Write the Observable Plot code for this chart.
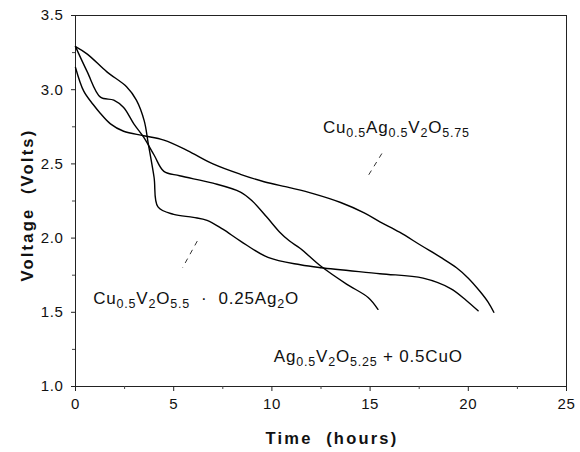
<!DOCTYPE html>
<html>
<head>
<meta charset="utf-8">
<script src="https://cdn.jsdelivr.net/npm/d3@7"></script>
<script src="https://cdn.jsdelivr.net/npm/@observablehq/plot@0.6"></script>
<style>
  html, body { margin: 0; padding: 0; background: #fff; }
  #chart { width: 580px; height: 452px; }
</style>
</head>
<body>
<div id="chart"></div>
<script>
// ---- data ----
const seriesA_name = "Cu0.5Ag0.5V2O5.75";
const seriesA_t = [0, 0.42, 0.9, 1.27, 1.78, 2.45, 3.47, 4.5, 5.7, 7.0, 8.4, 9.6, 10.9, 12.1, 13.5, 14.7, 15.5, 16.5, 17.6, 18.6, 19.4, 20.0, 20.6, 21.0, 21.3];
const seriesA_v = [3.15, 2.99, 2.90, 2.84, 2.77, 2.72, 2.69, 2.66, 2.59, 2.50, 2.43, 2.38, 2.34, 2.30, 2.24, 2.17, 2.11, 2.04, 1.95, 1.87, 1.80, 1.73, 1.64, 1.57, 1.50];

const seriesB_name = "Ag0.5V2O5.25 + 0.5CuO";
const seriesB_t = [0, 0.6, 1.27, 1.95, 2.45, 2.97, 3.47, 4.0, 4.5, 5.3, 7.0, 8.4, 9.0, 9.75, 10.4, 10.9, 11.45, 12.5, 13.8, 14.9, 15.4];
const seriesB_v = [3.29, 3.12, 2.95, 2.93, 2.88, 2.77, 2.68, 2.56, 2.45, 2.42, 2.37, 2.31, 2.25, 2.14, 2.04, 1.98, 1.93, 1.81, 1.69, 1.60, 1.52];

const seriesC_name = "Cu0.5V2O5.5 · 0.25Ag2O";
const seriesC_t = [0, 0.6, 1.6, 2.6, 3.1, 3.5, 3.7, 4.0, 4.2, 5.0, 6.0, 6.7, 7.5, 8.4, 9.8, 11.45, 12.5, 15.5, 17.7, 19.1, 19.9, 20.5];
const seriesC_v = [3.29, 3.24, 3.12, 3.02, 2.93, 2.79, 2.64, 2.41, 2.21, 2.16, 2.14, 2.12, 2.06, 1.98, 1.87, 1.82, 1.80, 1.76, 1.73, 1.66, 1.58, 1.51];

const xTicks = [0, 5, 10, 15, 20, 25];
const yTicks = [1.0, 1.5, 2.0, 2.5, 3.0, 3.5];
const xMinorTicks = [2.5, 7.5, 12.5, 17.5, 22.5];
const yMinorTicks = [1.25, 1.75, 2.25, 2.75, 3.25];

// annotation labels (subscripts marked with _{...})
const labelText = ["Cu_{0.5}Ag_{0.5}V_{2}O_{5.75}", "Cu_{0.5}V_{2}O_{5.5}  ·  0.25Ag_{2}O", "Ag_{0.5}V_{2}O_{5.25} + 0.5CuO"];
const labelT = [12.6, 0.9, 10.1];
const labelV = [2.745, 1.595, 1.205];

// pointer dashes
const pointerT1 = [15.6, 6.2];
const pointerV1 = [2.57, 1.98];
const pointerT2 = [14.9, 5.45];
const pointerV2 = [2.42, 1.80];

const xLabel = "Time  (hours)";
const yLabel = "Voltage  (Volts)";

// ---- build tables ----
const curves = [
  ...seriesA_t.map((t, i) => ({series: seriesA_name, t, v: seriesA_v[i]})),
  ...seriesB_t.map((t, i) => ({series: seriesB_name, t, v: seriesB_v[i]})),
  ...seriesC_t.map((t, i) => ({series: seriesC_name, t, v: seriesC_v[i]}))
];
const labels = labelText.map((s, i) => ({s, t: labelT[i], v: labelV[i]}));
const pointers = pointerT1.map((t, i) => ({t1: t, v1: pointerV1[i], t2: pointerT2[i], v2: pointerV2[i]}));

const font = "'Liberation Sans', Arial, Helvetica, sans-serif";

const chart = Plot.plot({
  width: 580,
  height: 452,
  marginLeft: 75,
  marginRight: 14,
  marginTop: 15,
  marginBottom: 66,
  x: {type: "linear", domain: [0, 25]},
  y: {type: "linear", domain: [1, 3.5]},
  style: {fontFamily: font, fontSize: "15px", color: "#111", background: "#fff"},
  marks: [
    Plot.frame({stroke: "#222", strokeWidth: 1}),
    Plot.axisX({ticks: xTicks, tickSize: 5, tickPadding: 7, tickFormat: d3.format("d"), fontSize: 15, label: null, stroke: "#222", className: "ticklab"}),
    Plot.axisY({ticks: yTicks, tickSize: 4, tickPadding: 8, tickFormat: d3.format(".1f"), fontSize: 15, label: null, stroke: "#222", className: "ticklab"}),
    Plot.axisX({ticks: xMinorTicks, tickSize: 3, tickFormat: () => "", label: null, stroke: "#444"}),
    Plot.axisY({ticks: yMinorTicks, tickSize: 3, tickFormat: () => "", label: null, stroke: "#444"}),
    Plot.line(curves, {x: "t", y: "v", z: "series", stroke: "#000", strokeWidth: 1.4, curve: "catmull-rom"}),
    Plot.link(pointers, {x1: "t1", y1: "v1", x2: "t2", y2: "v2", stroke: "#333", strokeWidth: 1, strokeDasharray: "5,5"}),
    Plot.text(labels, {x: "t", y: "v", text: "s", textAnchor: "start", fontSize: 17, fill: "#111", className: "sublabel"}),
    Plot.text([xLabel], {frameAnchor: "bottom", dy: 57, dx: 11, text: d => d, fontSize: 16.5, fontWeight: "bold", fill: "#111", className: "axislabel"}),
    Plot.text([yLabel], {frameAnchor: "left", textAnchor: "middle", dx: -48, dy: 4, rotate: -90, text: d => d, fontSize: 16.5, fontWeight: "bold", fill: "#111", className: "axislabel"})
  ]
});

document.getElementById("chart").appendChild(chart);

// letter spacing for axis labels
d3.select(chart).selectAll(".axislabel text").attr("letter-spacing", "2.2px").style("white-space", "pre");
d3.select(chart).selectAll(".ticklab text").attr("letter-spacing", "0.6px");

// convert _{...} into subscript tspans
d3.select(chart).selectAll(".sublabel text").each(function() {
  const el = d3.select(this);
  const raw = this.textContent;
  el.text(null).style("white-space", "pre").attr("letter-spacing", "0.8px");
  const parts = raw.split(/(_\{[^}]*\})/).filter(p => p.length);
  let shifted = false;
  for (const p of parts) {
    const m = p.match(/^_\{([^}]*)\}$/);
    if (m) {
      el.append("tspan").attr("font-size", "12.5px").attr("dy", shifted ? 0 : 4).text(m[1]);
      shifted = true;
    } else {
      el.append("tspan").attr("dy", shifted ? -4 : 0).text(p);
      shifted = false;
    }
  }
});
</script>
</body>
</html>
